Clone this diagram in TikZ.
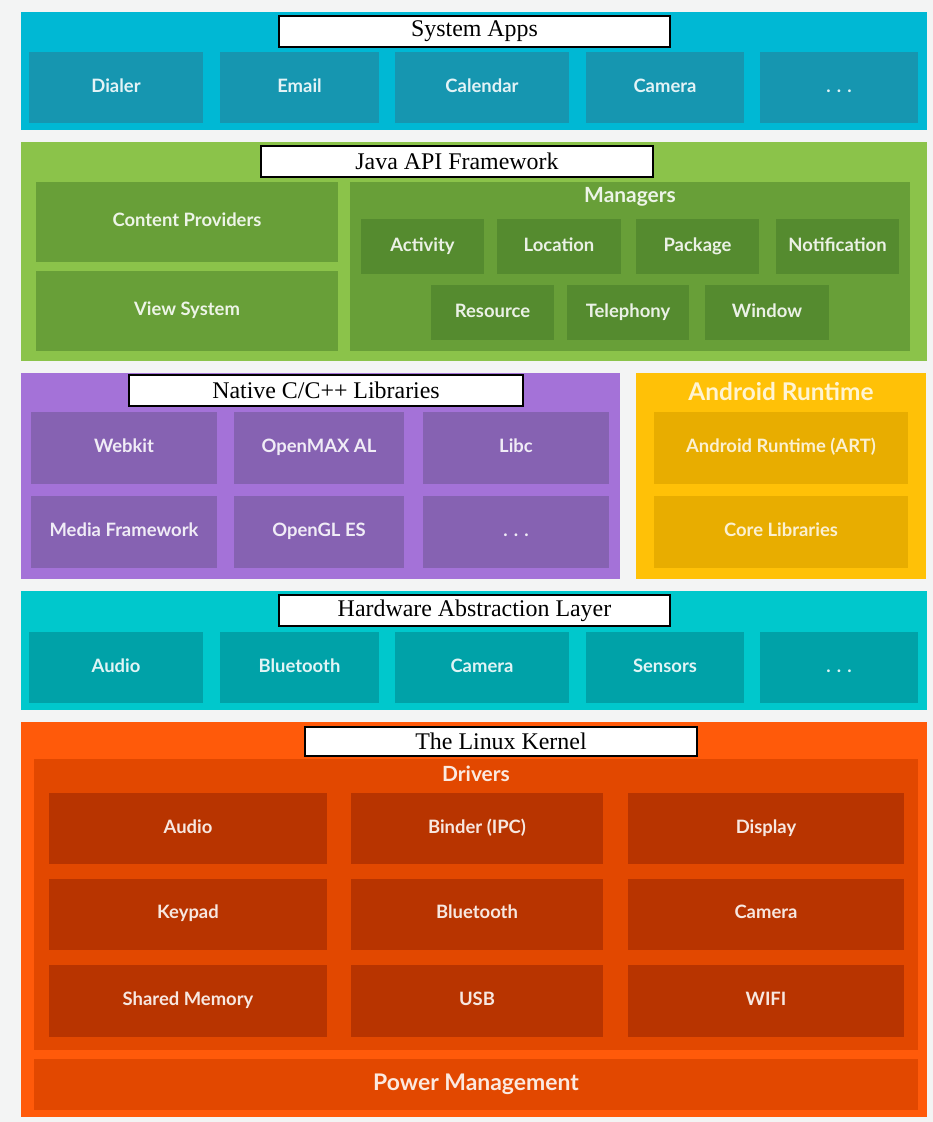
\documentclass[tikz,border=0pt]{standalone}
\usepackage{fontspec}
\setmainfont{Liberation Serif}
\setsansfont{Lato}
\usetikzlibrary{positioning}
\definecolor{bgc}{HTML}{F3F4F4}
\definecolor{sysc}{HTML}{00B8D4}
\definecolor{sysbox}{HTML}{1696B0}
\definecolor{javac}{HTML}{8BC34A}
\definecolor{javabox}{HTML}{689F38}
\definecolor{mgrbox}{HTML}{558B2F}
\definecolor{natc}{HTML}{A472D8}
\definecolor{natbox}{HTML}{8662B2}
\definecolor{rtc}{HTML}{FFC107}
\definecolor{rtbox}{HTML}{E8AD00}
\definecolor{halc}{HTML}{00C8CC}
\definecolor{halbox}{HTML}{00A2A8}
\definecolor{kernc}{HTML}{FF5A0A}
\definecolor{drvc}{HTML}{E24800}
\definecolor{drvbox}{HTML}{B83400}
\tikzset{sz/.style 2 args={minimum width=#1bp, minimum height=#2bp, inner sep=0pt, outer sep=0pt}}
\tikzset{lbl/.style={font=\sffamily\bfseries\fontsize{18.5}{22}\selectfont, text height=13bp, text depth=4bp}}
\tikzset{hdr/.style={font=\sffamily\bfseries\fontsize{21}{24}\selectfont, text height=15bp, text depth=4bp}}
\tikzset{ttl/.style={draw=black, line width=2bp, fill=white, inner sep=0pt, font=\fontsize{24}{26}\selectfont}}
\tikzset{appbox/.style={fill=sysbox, lbl, text=white!88!sysbox}}
\tikzset{javabx/.style={fill=javabox, lbl, text=white!88!javabox}}
\tikzset{mgrbx/.style={fill=mgrbox, lbl, text=white!88!mgrbox}}
\tikzset{natbx/.style={fill=natbox, lbl, text=white!88!natbox}}
\tikzset{rtbx/.style={fill=rtbox, lbl, text=white!82!rtbox}}
\tikzset{halbx/.style={fill=halbox, lbl, text=white!88!halbox}}
\tikzset{drvbx/.style={fill=drvbox, lbl, text=white!88!drvbox}}
\begin{document}
\begin{tikzpicture}[x=1bp, y=-1bp]
	\useasboundingbox (0,0) rectangle (933,1122);
	\fill[bgc] (0,0) rectangle (933,1122);
	% system apps
	\node[sz={906}{118}, fill=sysc] (sys) at (474,71) {};
	\node[ttl, sz={391}{31}] (sysTitle) at (474.5,31.5) {System Apps};
	\node[appbox, sz={174}{71}] (dialer) at (116,87.5) {Dialer};
	\node[appbox, sz={159}{71}] (email) at (299.5,87.5) {Email};
	\node[appbox, sz={174}{71}] (calendar) at (482,87.5) {Calendar};
	\node[appbox, sz={158}{71}] (camera) at (665,87.5) {Camera};
	\node[appbox, sz={158}{71}] (sysMore) at (839,87.5) {.\,\,.\,\,.};
	% java api framework
	\node[sz={906}{219}, fill=javac] (java) at (474,251.5) {};
	\node[ttl, sz={392}{31}] (javaTitle) at (457,161.5) {Java API Framework};
	\node[javabx, sz={302}{80}] (content) at (187,222) {Content Providers};
	\node[javabx, sz={302}{80}] (view) at (187,311) {View System};
	\node[sz={560}{169}, fill=javabox] (mgr) at (630,266.5) {};
	\node[hdr, text=white!88!javabox] (mgrLbl) at (630,197) {Managers};
	\node[mgrbx, sz={123}{55}] (activity) at (422.5,246.5) {Activity};
	\node[mgrbx, sz={124}{55}] (location) at (559,246.5) {Location};
	\node[mgrbx, sz={123}{55}] (pkg) at (697.5,246.5) {Package};
	\node[mgrbx, sz={123}{55}] (notif) at (837.5,246.5) {Notification};
	\node[mgrbx, sz={123}{55}] (resource) at (492.5,312.5) {Resource};
	\node[mgrbx, sz={122}{55}] (telephony) at (628,312.5) {Telephony};
	\node[mgrbx, sz={124}{55}] (window) at (767,312.5) {Window};
	% native libraries
	\node[sz={599}{206}, fill=natc] (native) at (320.5,476) {};
	\node[ttl, sz={394}{31}] (nativeTitle) at (326,390.5) {Native C/C++ Libraries};
	\node[natbx, sz={186}{72}] (webkit) at (124,448) {Webkit};
	\node[natbx, sz={170}{72}] (openmax) at (319,448) {OpenMAX AL};
	\node[natbx, sz={186}{72}] (libc) at (516,448) {Libc};
	\node[natbx, sz={186}{72}] (media) at (124,532) {Media Framework};
	\node[natbx, sz={170}{72}] (opengl) at (319,532) {OpenGL ES};
	\node[natbx, sz={186}{72}] (libMore) at (516,532) {.\,\,.\,\,.};
	% android runtime
	\node[sz={290}{206}, fill=rtc] (rt) at (781,476) {};
	\node[font=\sffamily\bfseries\fontsize{24.5}{28}\selectfont, text=white!82!rtc] (rtLbl) at (781,392) {Android Runtime};
	\node[rtbx, sz={254}{72}] (art) at (781,448) {Android Runtime (ART)};
	\node[rtbx, sz={254}{72}] (core) at (781,532) {Core Libraries};
	% hardware abstraction layer
	\node[sz={906}{119}, fill=halc] (hal) at (474,650.5) {};
	\node[ttl, sz={391}{31}] (halTitle) at (474.5,610.5) {Hardware Abstraction Layer};
	\node[halbx, sz={174}{71}] (audio) at (116,667.5) {Audio};
	\node[halbx, sz={159}{71}] (bluetooth) at (299.5,667.5) {Bluetooth};
	\node[halbx, sz={174}{71}] (halCam) at (482,667.5) {Camera};
	\node[halbx, sz={158}{71}] (sensors) at (665,667.5) {Sensors};
	\node[halbx, sz={158}{71}] (halMore) at (839,667.5) {.\,\,.\,\,.};
	% linux kernel
	\node[sz={906}{395}, fill=kernc] (kern) at (474,919.5) {};
	\node[ttl, sz={392}{29}] (kernTitle) at (501,741.5) {The Linux Kernel};
	\node[sz={884}{291}, fill=drvc] (drv) at (476,904.5) {};
	\node[hdr, text=white!88!drvc] (drvLbl) at (476,776) {Drivers};
	\node[drvbx, sz={278}{71}] (kAudio) at (188,828.5) {Audio};
	\node[drvbx, sz={252}{71}] (binder) at (477,828.5) {Binder (IPC)};
	\node[drvbx, sz={276}{71}] (display) at (766,828.5) {Display};
	\node[drvbx, sz={278}{71}] (keypad) at (188,914) {Keypad};
	\node[drvbx, sz={252}{71}] (kBt) at (477,914) {Bluetooth};
	\node[drvbx, sz={276}{71}] (kCam) at (766,914) {Camera};
	\node[drvbx, sz={278}{72}] (shmem) at (188,1001) {Shared Memory};
	\node[drvbx, sz={252}{72}] (usb) at (477,1001) {USB};
	\node[drvbx, sz={276}{72}] (wifi) at (766,1001) {WIFI};
	\node[sz={884}{51}, fill=drvc, font=\sffamily\bfseries\fontsize{23}{26}\selectfont, text=white!88!drvc] (power) at (476,1084.5) {Power Management};
\end{tikzpicture}
\end{document}
